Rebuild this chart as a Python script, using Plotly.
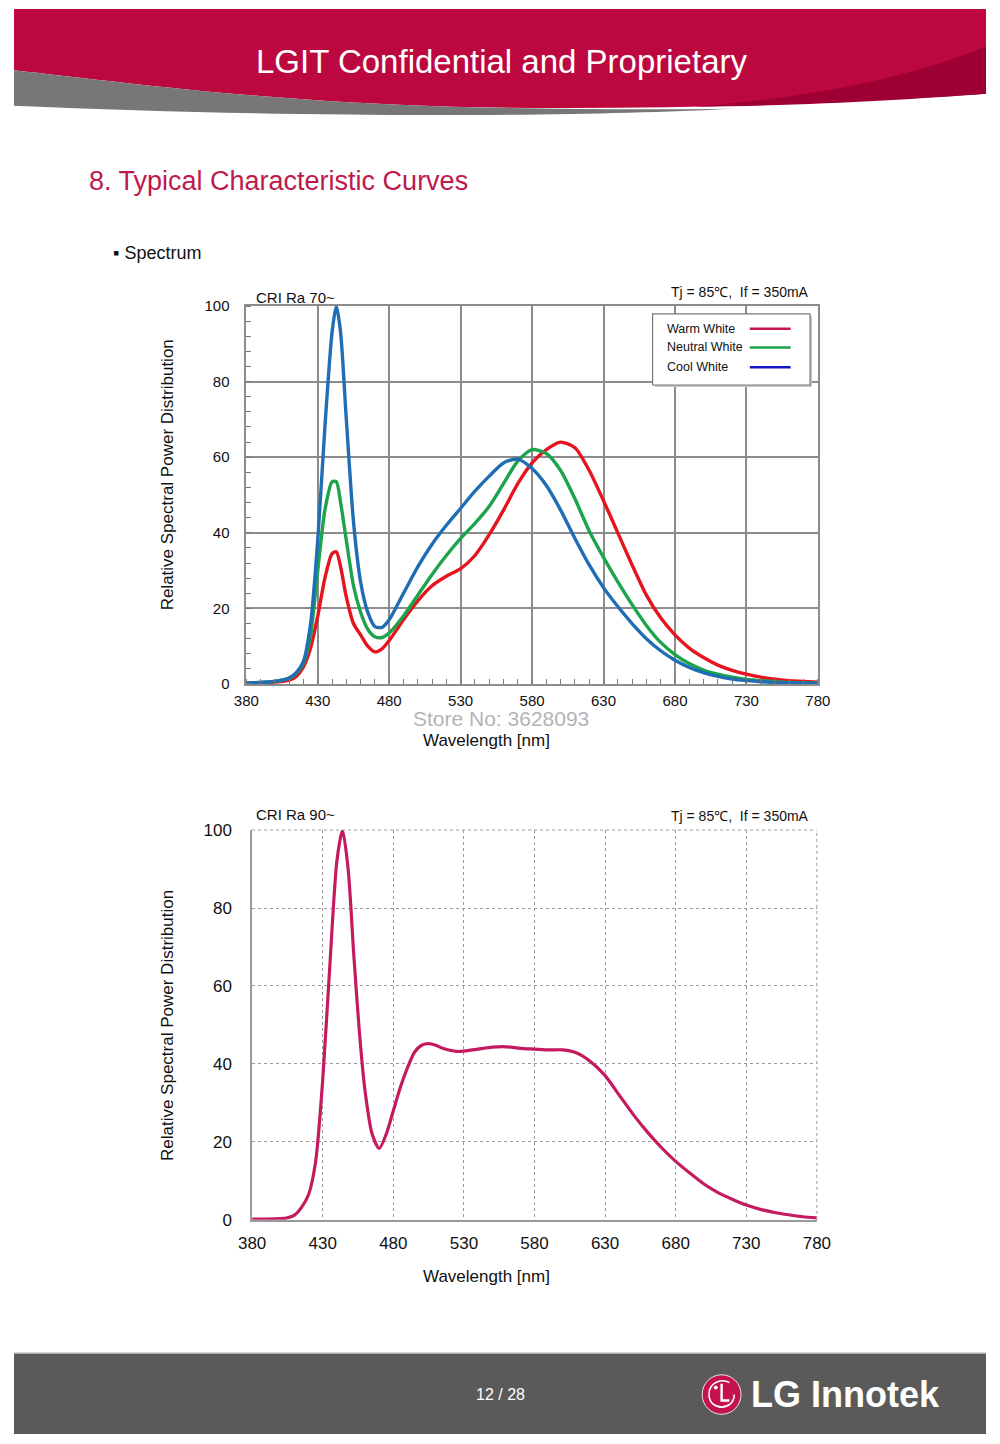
import plotly.graph_objects as go

# ---------------- data ----------------
wl_ra70 = [380, 390, 400, 405, 410, 415, 420, 425, 430, 435, 440, 443, 446, 450, 455, 460, 465, 470, 475, 480,
           490, 500, 510, 520, 530, 540, 550, 560, 570, 580, 590, 600, 610, 620, 630, 640, 650, 660, 670, 680,
           690, 700, 710, 720, 730, 740, 750, 760, 770, 780]
warm_white = [0.2, 0.3, 0.5, 0.7, 1.0, 2.0, 4.5, 9.5, 18, 28, 34.5, 35, 31, 23, 16, 13, 10, 8.5, 9.3, 11.5,
              17, 22, 26, 28.5, 30.5, 34, 39.5, 46, 53, 58.5, 62, 64, 62.5, 56.5, 48.5, 40, 31.5, 23.5, 17.5, 13,
              9.5, 7, 5, 3.6, 2.6, 1.8, 1.3, 0.9, 0.7, 0.5]
neutral_white = [0.3, 0.4, 0.7, 1.0, 1.5, 2.8, 5.5, 13, 30, 46, 53.5, 53.5, 48, 38, 26, 19, 14.5, 12.5, 12.3, 13.5,
                 18, 23.5, 29, 34, 38.5, 42.5, 47, 53, 59, 62, 61, 56.5, 49, 40.5, 33.5, 27, 21, 15.5, 11, 7.8,
                 5.4, 3.7, 2.6, 1.8, 1.2, 0.9, 0.6, 0.4, 0.3, 0.3]
cool_white = [0.3, 0.4, 0.7, 1.0, 1.6, 3, 6, 16, 38, 68, 93, 100, 93, 70, 43, 27, 19, 15.2, 15, 17,
              24, 31, 37, 42, 46.5, 51, 55, 58.5, 59.5, 57, 52.5, 46, 38.5, 31.5, 25.5, 20.5, 16, 12, 8.8, 6.3,
              4.4, 3.0, 2.0, 1.3, 0.9, 0.6, 0.4, 0.3, 0.2, 0.2]

wl_ra90 = [380, 390, 400, 405, 410, 415, 420, 425, 430, 435, 440, 444, 448, 452, 456, 460, 465, 470, 475, 480,
           485, 490, 495, 500, 505, 510, 515, 520, 525, 530, 540, 550, 560, 570, 580, 590, 600, 610, 620, 630,
           640, 650, 660, 670, 680, 690, 700, 710, 720, 730, 740, 750, 760, 770, 780]
ra90_spd = [0.2, 0.2, 0.3, 0.5, 1.2, 3.2, 6.5, 15, 36, 65, 92, 100, 90, 68, 48, 33, 22, 18.3, 22, 28,
            34, 39, 43, 44.8, 45.2, 44.8, 44, 43.5, 43.2, 43.3, 43.8, 44.3, 44.4, 44, 43.8, 43.6, 43.6, 42.8, 40.5, 37,
            32, 27, 22.5, 18.5, 15, 12, 9.2, 7, 5.3, 3.8, 2.7, 1.9, 1.3, 0.8, 0.5]

x_ticks = [380, 430, 480, 530, 580, 630, 680, 730, 780]
y_ticks = [0, 20, 40, 60, 80, 100]

W, H = 1000, 1444
FONT = "Liberation Sans, Arial, sans-serif"


def PX(x):
    return x / W


def PY(y):
    return 1 - y / H


def path(cmds):
    out = []
    for c in cmds:
        if isinstance(c, str):
            out.append(c)
        else:
            out.append(f"{PX(c[0]):.5f},{PY(c[1]):.5f}")
    return " ".join(out)


fig = go.Figure()

# chart 1 traces
fig.add_trace(go.Scatter(x=wl_ra70, y=warm_white, mode="lines", name="Warm White",
                         line=dict(color="#e5141f", width=3.4, shape="spline", smoothing=0.7),
                         xaxis="x", yaxis="y", showlegend=False))
fig.add_trace(go.Scatter(x=wl_ra70, y=neutral_white, mode="lines", name="Neutral White",
                         line=dict(color="#1ca34c", width=3.4, shape="spline", smoothing=0.7),
                         xaxis="x", yaxis="y", showlegend=False))
fig.add_trace(go.Scatter(x=wl_ra70, y=cool_white, mode="lines", name="Cool White",
                         line=dict(color="#1f6db4", width=3.4, shape="spline", smoothing=0.7),
                         xaxis="x", yaxis="y", showlegend=False))
# chart 2 trace
fig.add_trace(go.Scatter(x=wl_ra90, y=ra90_spd, mode="lines", name="CRI Ra 90~",
                         line=dict(color="#c41a5f", width=3.2, shape="spline", smoothing=0.7),
                         xaxis="x2", yaxis="y2", showlegend=False))

tickfont1 = dict(family=FONT, size=15, color="#111")
tickfont2 = dict(family=FONT, size=17, color="#111")

fig.update_layout(
    width=W, height=H, margin=dict(l=0, r=0, t=0, b=0), autosize=False,
    paper_bgcolor="white", plot_bgcolor="white",
    xaxis=dict(domain=[PX(239), PX(827)], anchor="y", range=[380, 780], tickvals=x_ticks,
               showgrid=True, gridcolor="#8c8c8c", gridwidth=1.5,
               showline=True, linecolor="#8c8c8c", linewidth=1.5, mirror=True,
               ticks="", zeroline=False, tickfont=tickfont1, ticklabelstandoff=2,
               minor=dict(dtick=10, tick0=380, ticks="inside", ticklen=5, tickcolor="#777", showgrid=False)),
    yaxis=dict(domain=[PY(684), PY(301)], anchor="x", range=[0, 100], tickvals=y_ticks,
               showgrid=True, gridcolor="#8c8c8c", gridwidth=1.5,
               showline=True, linecolor="#8c8c8c", linewidth=1.5, mirror=True,
               ticks="", zeroline=False, tickfont=tickfont1, ticklabelstandoff=12,
               minor=dict(dtick=4, tick0=0, ticks="inside", ticklen=5, tickcolor="#777", showgrid=False)),
    xaxis2=dict(domain=[PX(245), PX(826)], anchor="y2", range=[380, 780], tickvals=x_ticks,
                showgrid=True, gridcolor="#9a9a9a", gridwidth=1, griddash="dot",
                showline=True, linecolor="#9a9a9a", linewidth=1.5, mirror=False,
                ticks="", zeroline=False, tickfont=tickfont2, ticklabelstandoff=7),
    yaxis2=dict(domain=[PY(1227), PY(832)], anchor="x2", range=[0, 100], tickvals=y_ticks,
                showgrid=True, gridcolor="#9a9a9a", gridwidth=1, griddash="dot",
                showline=True, linecolor="#9a9a9a", linewidth=1.5, mirror=False,
                ticks="", zeroline=False, tickfont=tickfont2, ticklabelstandoff=15),
)

shapes = []
# header red band
shapes.append(dict(type="path", xref="paper", yref="paper", layer="below",
                   path=path(["M", (0, 0), "L", (1000, 0), "L", (1000, 86),
                              "C", (820, 98), (620, 103), (450, 99),
                              "C", (260, 94), (110, 74), (0, 62), "Z"]),
                   fillcolor="#bd083f", line=dict(width=0)))
# darker red swoosh top-right
shapes.append(dict(type="path", xref="paper", yref="paper", layer="below",
                   path=path(["M", (1000, 38), "C", (920, 70), (820, 90), (700, 99),
                              "C", (820, 98), (920, 92), (1000, 86), "Z"]),
                   fillcolor="#9e0033", line=dict(width=0)))
# grey swoosh
shapes.append(dict(type="path", xref="paper", yref="paper", layer="below",
                   path=path(["M", (0, 62), "C", (110, 74), (260, 94), (450, 99),
                              "C", (560, 102), (660, 102), (740, 101),
                              "C", (560, 110), (280, 110), (0, 98), "Z"]),
                   fillcolor="#777777", line=dict(width=0)))
# footer
shapes.append(dict(type="rect", xref="paper", yref="paper", layer="below",
                   x0=0, x1=1, y0=PY(1444), y1=PY(1362),
                   fillcolor="#5a5a5a", line=dict(width=0)))
shapes.append(dict(type="line", xref="paper", yref="paper", x0=0, x1=1, y0=PY(1362), y1=PY(1362),
                   line=dict(color="#c8c8c8", width=1.5)))
# LG logo
shapes.append(dict(type="circle", xref="paper", yref="paper",
                   x0=PX(708), x1=PX(748), y0=PY(1424), y1=PY(1384),
                   fillcolor="#c4124f", line=dict(color="#e8e8e8", width=1)))
shapes.append(dict(type="path", xref="paper", yref="paper",
                   path=path(["M", (741, 1404), "C", (741, 1421), (715, 1421), (715, 1404),
                              "C", (715, 1390), (730, 1388), (736, 1392)]),
                   line=dict(color="white", width=1.6)))
shapes.append(dict(type="path", xref="paper", yref="paper",
                   path=path(["M", (728, 1393), "L", (728, 1410), "L", (736, 1410)]),
                   line=dict(color="white", width=2.4)))
shapes.append(dict(type="circle", xref="paper", yref="paper",
                   x0=PX(720), x1=PX(724), y0=PY(1399), y1=PY(1395),
                   fillcolor="white", line=dict(width=0)))
# chart 2: dotted top / right frame lines
shapes.append(dict(type="line", xref="x2 domain", yref="y2 domain", x0=0, x1=1, y0=1, y1=1,
                   line=dict(color="#9a9a9a", width=1, dash="dot")))
shapes.append(dict(type="line", xref="x2 domain", yref="y2 domain", x0=1, x1=1, y0=0, y1=1,
                   line=dict(color="#9a9a9a", width=1, dash="dot")))
# legend box (chart 1)
shapes.append(dict(type="rect", xref="paper", yref="paper",
                   x0=PX(659), x1=PX(821), y0=PY(383), y1=PY(311),
                   fillcolor="#c8c8c8", line=dict(width=0)))
shapes.append(dict(type="rect", xref="paper", yref="paper",
                   x0=PX(657), x1=PX(819), y0=PY(381), y1=PY(309),
                   fillcolor="white", line=dict(color="#7a7a7a", width=1.2)))
legend_rows = [("Warm White", "#c8174e", 324), ("Neutral White", "#1ca34c", 343), ("Cool White", "#1414c4", 363)]
for name, col, yy in legend_rows:
    shapes.append(dict(type="line", xref="paper", yref="paper",
                       x0=PX(757), x1=PX(799), y0=PY(yy), y1=PY(yy),
                       line=dict(color=col, width=2.6)))
fig.update_layout(shapes=shapes)

ann = []


def text(t, x, y, size, color="#111", xanchor="center", **kw):
    ann.append(dict(text=t, x=PX(x), y=PY(y), xref="paper", yref="paper", showarrow=False,
                    xanchor=xanchor, yanchor="middle",
                    font=dict(family=FONT, size=size, color=color), **kw))


text("LGIT Confidential and Proprietary", 502, 53, 33, color="white")
text("8. Typical Characteristic Curves", 75, 174, 27, color="#bd1a4c", xanchor="left")
text("▪ Spectrum", 100, 247, 18, xanchor="left")

# chart 1 texts
text("CRI Ra 70~", 247, 292, 15, xanchor="left")
text("Tj = 85℃,  If = 350mA", 820, 287, 14, xanchor="right")
text("Relative Spectral Power Distribution", 158, 472, 17, textangle=-90)
text("Wavelength [nm]", 486, 741, 17)
text("Store No: 3628093", 501, 719, 21, color="#b4b4b4")
for name, col, yy in legend_rows:
    text(name, 670, yy, 12.5, xanchor="left")

# chart 2 texts
text("CRI Ra 90~", 247, 816, 15, xanchor="left")
text("Tj = 85℃,  If = 350mA", 820, 818, 14, xanchor="right")
text("Relative Spectral Power Distribution", 158, 1030, 17, textangle=-90)
text("Wavelength [nm]", 486, 1284, 17)

# footer
text("12 / 28", 500, 1404, 16, color="white")
ann.append(dict(text="<b>LG Innotek</b>", x=PX(756), y=PY(1404), xref="paper", yref="paper",
                showarrow=False, xanchor="left", yanchor="middle",
                font=dict(family=FONT, size=36, color="white")))

fig.update_layout(annotations=ann)

fig.write_html("out.html")
